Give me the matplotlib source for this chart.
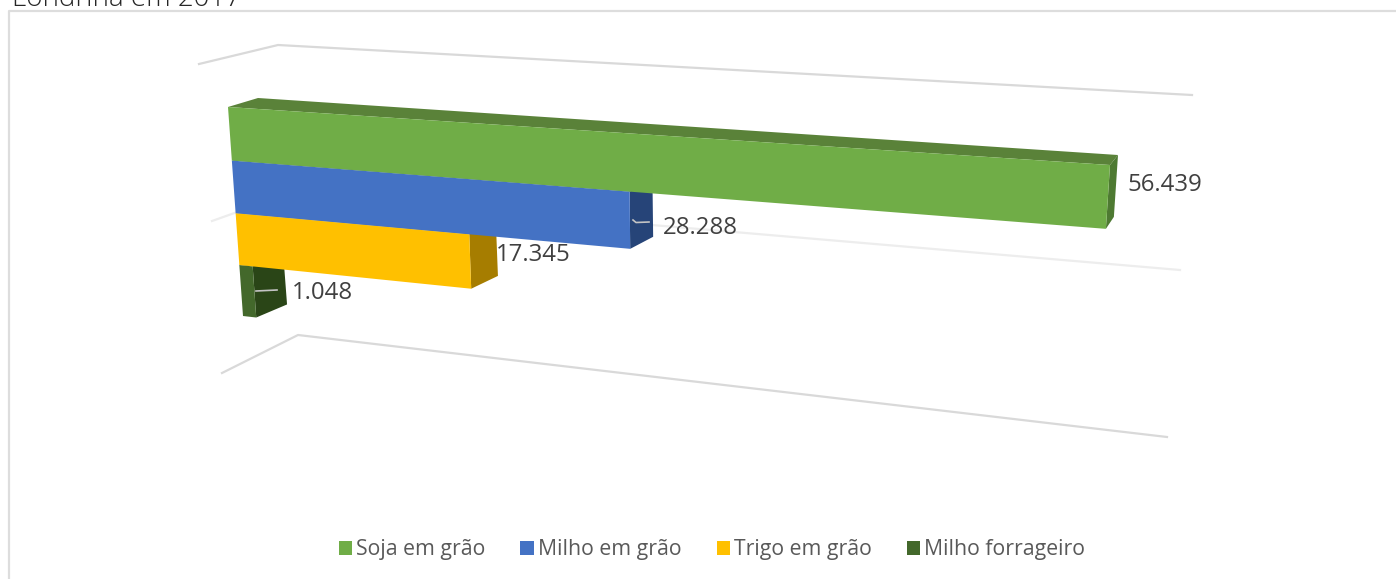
import numpy as np
import matplotlib
matplotlib.use('Agg')
import matplotlib.pyplot as plt
from matplotlib.patches import Patch

categories = ['Soja em grão', 'Milho em grão', 'Trigo em grão', 'Milho forrageiro']
values = [56.439, 28.288, 17.345, 1.048]
value_labels = ['56.439', '28.288', '17.345', '1.048']
title = 'Londrina em 2017'

front_colors = ['#70AD47', '#4472C4', '#FFC000', '#43682B']
side_colors = ['#4E7A32', '#264478', '#A67D00', '#2A4517']
top_colors = ['#5A8239', '#365C9E', '#CC9A00', '#365322']
text_color = '#404040'
legend_color = '#595959'
line_color = '#D9D9D9'

vmax = values[0]
nrows = len(values)
W, H = 1396, 579


def homography(corners):
    # corners: pixel position of (0,0), (vmax,0), (vmax,nrows), (0,nrows)
    src = [(0, 0), (vmax, 0), (vmax, nrows), (0, nrows)]
    A, b = [], []
    for (u, r), (x, y) in zip(src, corners):
        A.append([u, r, 1, 0, 0, 0, -u * x, -r * x])
        A.append([0, 0, 0, u, r, 1, -u * y, -r * y])
        b += [x, y]
    return np.append(np.linalg.solve(np.array(A, float), np.array(b, float)), 1).reshape(3, 3)


def project(M, v, r):
    p = M @ np.array([v, r, 1.0])
    return p[0] / p[2], p[1] / p[2]


# front and back planes of the bars, in image pixels
front = homography([(228, 107), (1110, 165), (1094, 413), (243, 316)])
back = homography([(258, 98), (1118, 155), (1102, 395), (274, 303)])

fig = plt.figure(figsize=(W / 100, H / 100), dpi=100)
ax = fig.add_axes([0, 0, 1, 1])
ax.set_xlim(0, W)
ax.set_ylim(H, 0)
ax.axis('off')

# outer chart frame, runs off the right and bottom of the crop
ax.plot([9, 9, W + 5], [H + 5, 11, 11], color='#DDDDDD', lw=1.6, zorder=1)

# wall and floor lines
ax.plot([199, 278, 1192], [64, 45, 95], color=line_color, lw=1.6, zorder=1)
ax.plot([212, 288, 1180], [221, 194, 270], color='#EDEDED', lw=1.6, zorder=1)
ax.plot([222, 298, 1167], [373, 335, 437], color=line_color, lw=1.6, zorder=1)

# bars, lowest first so each upper bar covers the one below it
for i in range(nrows - 1, -1, -1):
    v = values[i]
    f = [project(front, 0, i), project(front, v, i), project(front, v, i + 1), project(front, 0, i + 1)]
    b = [project(back, 0, i), project(back, v, i), project(back, v, i + 1), project(back, 0, i + 1)]
    z = 2 + (nrows - i)
    top = [f[0], f[1], b[1], b[0]]
    side = [f[1], b[1], b[2], f[2]]
    ax.fill(*zip(*top), color=top_colors[i], lw=0, zorder=z)
    ax.fill(*zip(*side), color=side_colors[i], lw=0, zorder=z)
    ax.fill(*zip(*f), color=front_colors[i], lw=0, zorder=z)

# data labels
label_x = [1127.5, 663, 496, 292]
label_y = [185, 228, 255, 293]
for s, x, y in zip(value_labels, label_x, label_y):
    ax.text(x, y, s, color=text_color, fontsize=17.3, family='Open Sans',
            ha='left', va='center', zorder=10)

# little leader lines from the bars to the labels
ax.plot([633, 636, 649], [220, 222.5, 222], color='#C4C4C4', lw=1.2, zorder=9)
ax.plot([256, 277], [291, 290], color='#C4C4C4', lw=1.2, zorder=9)

# title is cut off by the top edge
ax.text(12, 6, title, color='#262626', fontsize=20, family='Open Sans',
        fontweight='light', ha='left', va='baseline', clip_on=False)

handles = [Patch(facecolor=c, edgecolor='none') for c in front_colors]
leg = ax.legend(handles, categories, ncol=4, loc='center', bbox_to_anchor=(712 / W, 1 - 550 / H),
                frameon=False, prop={'family': 'Open Sans', 'size': 15.3},
                handlelength=0.62, handleheight=0.62, handletextpad=0.2,
                columnspacing=1.65, labelcolor=legend_color)

fig.savefig('out.png', dpi=100)
